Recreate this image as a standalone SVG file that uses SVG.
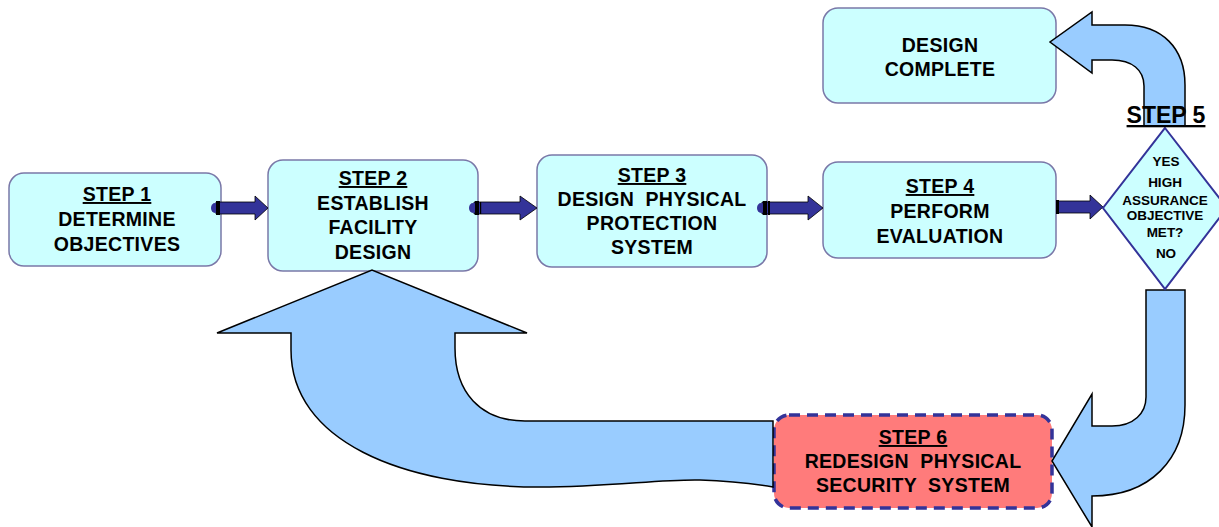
<svg xmlns="http://www.w3.org/2000/svg" width="1219" height="527" viewBox="0 0 1219 527">
  <style>
    .box { fill: #ccffff; stroke: #7a78a8; stroke-width: 1.5; }
    .redo { fill: #ff7b7b; stroke: #333399; stroke-width: 3.5; stroke-dasharray: 11 7; }
    .dia { fill: #ccffff; stroke: #333399; stroke-width: 2; }
    .big { fill: #99ccff; stroke: #000; stroke-width: 1.5; stroke-linejoin: miter; }
    .shaft { fill: #333399; stroke: #000; stroke-width: 0.8; }
    .dot { fill: #333399; }
    .band { fill: #000; }
    text { font-family: "Liberation Sans", Arial, sans-serif; font-weight: bold; fill: #000; text-anchor: middle; }
    .t { font-size: 19.5px; letter-spacing: 0.3px; }
    .s5 { font-size: 23px; }
    .d { font-size: 13.5px; }
    .u { text-decoration: underline; }
  </style>

  <!-- process steps -->
  <g id="step1">
    <rect class="box" x="9" y="173" width="212" height="93" rx="15"/>
    <text class="t" x="117" y="201"><tspan class="u">STEP 1</tspan></text>
    <text class="t" x="117" y="226">DETERMINE</text>
    <text class="t" x="117" y="251">OBJECTIVES</text>
  </g>

  <g id="step2">
    <rect class="box" x="268" y="160" width="210" height="111" rx="15"/>
    <text class="t" x="373" y="185"><tspan class="u">STEP 2</tspan></text>
    <text class="t" x="373" y="210">ESTABLISH</text>
    <text class="t" x="373" y="234">FACILITY</text>
    <text class="t" x="373" y="259">DESIGN</text>
  </g>

  <g id="step3">
    <rect class="box" x="537" y="155" width="230" height="112" rx="15"/>
    <text class="t" x="652" y="182"><tspan class="u">STEP 3</tspan></text>
    <text class="t" x="652" y="206" xml:space="preserve">DESIGN  PHYSICAL</text>
    <text class="t" x="652" y="230">PROTECTION</text>
    <text class="t" x="652" y="254">SYSTEM</text>
  </g>

  <g id="step4">
    <rect class="box" x="823" y="162" width="233" height="96" rx="15"/>
    <text class="t" x="940" y="193"><tspan class="u">STEP 4</tspan></text>
    <text class="t" x="940" y="218">PERFORM</text>
    <text class="t" x="940" y="243">EVALUATION</text>
  </g>

  <g id="complete">
    <rect class="box" x="823" y="8" width="233" height="95" rx="15"/>
    <text class="t" x="940" y="52">DESIGN</text>
    <text class="t" x="940" y="76">COMPLETE</text>
  </g>

  <g id="step6">
    <rect class="redo" x="774" y="415" width="278" height="93" rx="15"/>
    <text class="t" x="913" y="444"><tspan class="u">STEP 6</tspan></text>
    <text class="t" x="913" y="468" xml:space="preserve">REDESIGN  PHYSICAL</text>
    <text class="t" x="913" y="492" xml:space="preserve">SECURITY  SYSTEM</text>
  </g>

  <!-- connectors -->
  <g id="connectors">
    <!-- YES branch: up from decision, left to completion -->
    <path id="yes" class="big" d="M1144,126 L1144,86 C1144,70 1132,60 1112,60 L1092,60 L1092,73 L1050,42 L1092,12 L1092,25 L1125,25 C1162,25 1185,48 1185,85 L1185,126 Z"/>

    <!-- NO branch: down from decision, left into redesign -->
    <path id="no" class="big" d="M1146,290 L1185,290 L1185,405 C1185,460 1150,496 1092,496 L1092,527 L1052,461 L1092,394 L1092,426 L1112,426 C1134,426 1146,413 1146,397 Z"/>

    <!-- feedback: redesign back up to step 2 -->
    <path id="back" class="big" d="M773,421 L525,421 C480,421 455,392 455,348 L455,333 L527,333 L372,270 L217,333 L291,333 L291,350 C291,440 400,487 540,487 C610,487 660,479 700,480 C730,481 755,484 773,487 Z"/>

    <!-- small flow arrows between steps -->
    <g id="a1">
      <path class="shaft" d="M216,202 H255 V196 L268,208 L255,220 V214 H216 Z"/>
      <ellipse class="dot" cx="215" cy="208" rx="4" ry="5"/>
      <rect class="band" x="216" y="201" width="4" height="14"/>
    </g>
    <g id="a2">
      <path class="shaft" d="M474,202 H520 V196 L537,208 L520,220 V214 H474 Z"/>
      <ellipse class="dot" cx="473" cy="208" rx="4" ry="5"/>
      <rect class="band" x="475" y="201" width="4" height="14"/>
      <rect class="band" x="480" y="202" width="1.2" height="12"/>
    </g>
    <g id="a3">
      <path class="shaft" d="M762,202 H808 V196 L823,208 L808,220 V214 H762 Z"/>
      <ellipse class="dot" cx="761" cy="208" rx="4" ry="5"/>
      <rect class="band" x="763" y="201" width="4" height="14"/>
      <rect class="band" x="768" y="201" width="2" height="14"/>
    </g>
    <g id="a4">
      <path class="shaft" d="M1057,201 H1090 V195 L1103,207 L1090,219 V213 H1057 Z"/>
      <rect class="band" x="1056" y="200" width="3" height="14"/>
    </g>
  </g>

  <!-- decision -->
  <g id="step5">
    <polygon class="dia" points="1165,128 1227,208 1165,289 1103,208"/>
    <text class="s5" x="1166" y="123"><tspan class="u">STEP 5</tspan></text>
    <text class="d" x="1166" y="166">YES</text>
    <text class="d" x="1165" y="187">HIGH</text>
    <text class="d" x="1165" y="205">ASSURANCE</text>
    <text class="d" x="1165" y="220">OBJECTIVE</text>
    <text class="d" x="1165" y="237">MET?</text>
    <text class="d" x="1166" y="258">NO</text>
  </g>
</svg>
